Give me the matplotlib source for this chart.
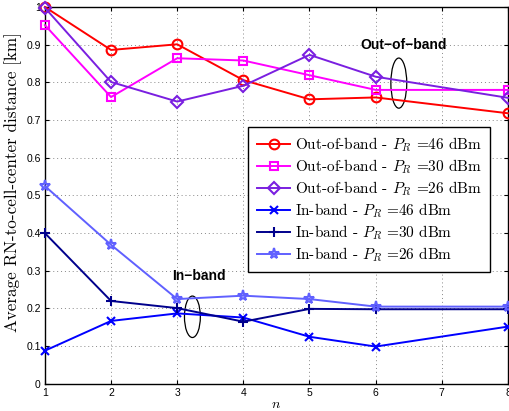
import matplotlib
matplotlib.use("Agg")
import matplotlib.pyplot as plt
from matplotlib.patches import Ellipse

n = [1, 2, 3, 4, 5, 6, 8]
out46 = [1.0, 0.886, 0.901, 0.806, 0.755, 0.760, 0.718]
out30 = [0.952, 0.761, 0.864, 0.858, 0.819, 0.780, 0.780]
out26 = [0.998, 0.801, 0.749, 0.791, 0.873, 0.815, 0.759]
in46 = [0.088, 0.167, 0.187, 0.176, 0.125, 0.099, 0.152]
in30 = [0.400, 0.220, 0.201, 0.165, 0.199, 0.198, 0.198]
in26 = [0.525, 0.369, 0.225, 0.234, 0.225, 0.205, 0.205]
yticks = [0, 0.1, 0.2, 0.3, 0.4, 0.5, 0.6, 0.7, 0.8, 0.9, 1.0]
yticklabels = ["0", "0.1", "0.2", "0.3", "0.4", "0.5", "0.6", "0.7", "0.8", "0.9", "1"]

labels = [
    r"Out-of-band - $P_R$ =46 dBm",
    r"Out-of-band - $P_R$ =30 dBm",
    r"Out-of-band - $P_R$ =26 dBm",
    r"In-band - $P_R$ =46 dBm",
    r"In-band - $P_R$ =30 dBm",
    r"In-band - $P_R$ =26 dBm",
]
series = [out46, out30, out26, in46, in30, in26]
colors = ["#ff0000", "#ff00ff", "#7a1fe0", "#0000ff", "#00008c", "#6060ff"]
markers = ["o", "s", "D", "x", "+", "*"]
msizes = [7, 6, 6.5, 6, 7.5, 8]

plt.rcParams["mathtext.fontset"] = "cm"
plt.rcParams["axes.unicode_minus"] = False
fig = plt.figure(figsize=(5.10, 4.11), dpi=100)
ax = fig.add_axes([0.088, 0.066, 0.908, 0.917])

for y, lab, c, m, ms in zip(series, labels, colors, markers, msizes):
    ax.plot(n, y, color=c, marker=m, markersize=ms, markerfacecolor="none",
            markeredgecolor=c, markeredgewidth=1.5, linewidth=1.4, label=lab,
            clip_on=False, zorder=3)

ax.set_xlim(1, 8)
ax.set_ylim(0, 1.0)
ax.set_xticks(range(1, 9))
ax.set_yticks(yticks)
ax.set_yticklabels(yticklabels)
ax.tick_params(direction="in", labelsize=7.5, length=3, top=True, right=True, pad=3)
for lab in ax.get_xticklabels() + ax.get_yticklabels():
    lab.set_family("Liberation Sans")
ax.grid(True, linestyle=(0, (1, 3)), color="#888888", linewidth=0.7)
for s in ax.spines.values():
    s.set_linewidth(1.0)

ax.set_xlabel(r"$n$", fontsize=10, labelpad=-1)
ax.set_ylabel("Average RN-to-cell-center distance [km]", family="cmr10",
              fontsize=12.3)
ax.yaxis.set_label_coords(-0.05, 0.535)

leg = ax.legend(loc="upper right", bbox_to_anchor=(0.962, 0.682), fancybox=False,
                edgecolor="black", framealpha=1, prop={"family": "cmr10", "size": 11},
                handlelength=2.2, handletextpad=0.3, borderpad=0.55, labelspacing=0.22,
                borderaxespad=0)
leg.get_frame().set_linewidth(1.0)

ax.text(6.42, 0.899, "Out\u2212of\u2212band", ha="center", va="center",
        fontsize=10, fontweight="bold", family="Liberation Sans")
ax.add_patch(Ellipse((6.35, 0.798), 0.24, 0.133, fill=False, edgecolor="black", linewidth=0.9))
ax.text(3.33, 0.286, "In\u2212band", ha="center", va="center",
        fontsize=10, fontweight="bold", family="Liberation Sans")
ax.add_patch(Ellipse((3.23, 0.178), 0.24, 0.11, fill=False, edgecolor="black", linewidth=0.9))

fig.savefig("out.png", dpi=100)
